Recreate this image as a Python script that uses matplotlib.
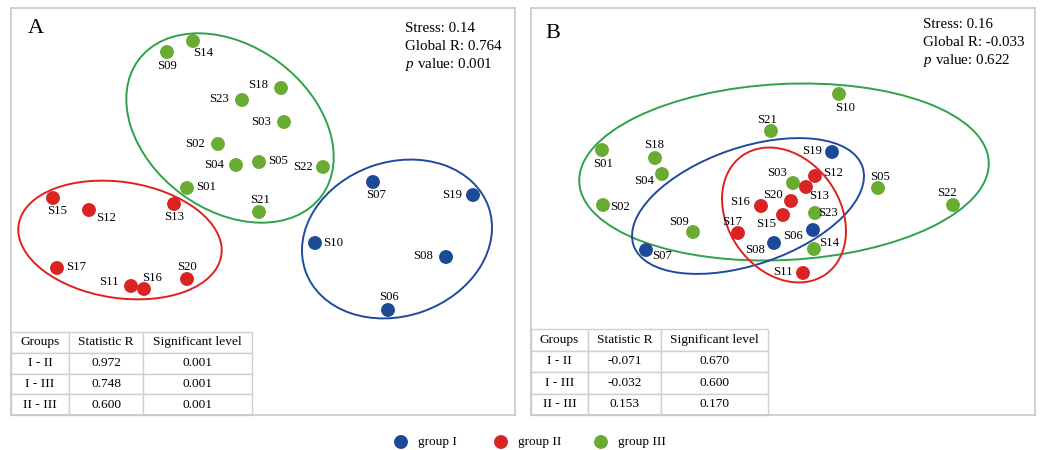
import matplotlib
matplotlib.use('Agg')
import matplotlib.pyplot as plt
from matplotlib.patches import Ellipse

plt.rcParams['font.family'] = ['Liberation Serif', 'DejaVu Serif']
plt.rcParams['mathtext.fontset'] = 'custom'
plt.rcParams['mathtext.rm'] = 'Liberation Serif'
plt.rcParams['mathtext.it'] = 'Liberation Serif:italic'

# NMDS coordinates (panel units, y grows downward)
samples = ['S01', 'S02', 'S03', 'S04', 'S05', 'S06', 'S07', 'S08', 'S09', 'S10', 'S11', 'S12',
           'S13', 'S14', 'S15', 'S16', 'S17', 'S18', 'S19', 'S20', 'S21', 'S22', 'S23']

a_x = [176, 207, 273, 225, 248, 377, 362, 435, 156, 304, 120, 78,
       163, 182, 42, 133, 46, 270, 462, 176, 248, 312, 231]
a_y = [180, 136, 114, 157, 154, 302, 174, 249, 44, 235, 278, 202,
       196, 33, 190, 281, 260, 80, 187, 271, 204, 159, 92]
a_group = [3, 3, 3, 3, 3, 1, 1, 1, 3, 1, 2, 2,
           2, 3, 2, 2, 2, 3, 1, 2, 3, 3, 3]

b_x = [71, 72, 262, 131, 347, 282, 115, 243, 162, 308, 272, 284,
       275, 283, 252, 230, 207, 124, 301, 260, 240, 422, 284]
b_y = [142, 197, 175, 166, 180, 222, 242, 235, 224, 86, 265, 168,
       179, 241, 207, 198, 225, 150, 144, 193, 123, 197, 205]
b_group = [3, 3, 3, 3, 3, 1, 1, 1, 3, 3, 2, 2,
           2, 3, 2, 2, 2, 3, 1, 2, 3, 3, 3]

a_stats = ['Stress: 0.14', 'Global R: 0.764', '$p$ value: 0.001']
b_stats = ['Stress: 0.16', 'Global R: -0.033', '$p$ value: 0.622']

table_header = ['Groups', 'Statistic R', 'Significant level']
pairs = ['I - II', 'I - III', 'II - III']
a_r = ['0.972', '0.748', '0.600']
a_sig = ['0.001', '0.001', '0.001']
b_r = ['-0.071', '-0.032', '0.153']
b_sig = ['0.670', '0.600', '0.170']

group_names = {1: 'group I', 2: 'group II', 3: 'group III'}
point_colors = {1: '#1c4a96', 2: '#da2424', 3: '#6aab34'}
ring_colors = {1: '#1f4a9e', 2: '#e02020', 3: '#2ea24a'}

# ellipses: group -> (cx, cy, width, height, angle)
a_rings = {3: (219, 120, 228, 164, 36.7), 2: (109, 232, 205, 116, 8.6), 1: (386, 231, 194, 154, -19.3)}
b_rings = {3: (253, 164, 410, 176, -2.9), 1: (217, 198, 242, 117, -19.0), 2: (253, 207, 145, 112, 54.8)}

# label offsets from each point (layout only)
a_off = {'S01': (19, -1), 'S02': (-23, 0), 'S03': (-23, 0), 'S04': (-22, 0), 'S05': (19, -1),
         'S06': (1, -13), 'S07': (3, 13), 'S08': (-23, -1), 'S09': (0, 14), 'S10': (18, 0),
         'S11': (-22, -4), 'S12': (17, 8), 'S13': (0, 13), 'S14': (10, 12), 'S15': (4, 13),
         'S16': (8, -11), 'S17': (19, -1), 'S18': (-23, -3), 'S19': (-21, 0), 'S20': (0, -12),
         'S21': (1, -12), 'S22': (-20, 0), 'S23': (-23, -1)}
b_off = {'S01': (1, 14), 'S02': (17, 2), 'S03': (-16, -10), 'S04': (-18, 7), 'S05': (2, -11),
         'S06': (-20, 6), 'S07': (16, 6), 'S08': (-19, 7), 'S09': (-14, -10), 'S10': (6, 14),
         'S11': (-20, -1), 'S12': (18, -3), 'S13': (13, 9), 'S14': (15, -6), 'S15': (-17, 9),
         'S16': (-21, -4), 'S17': (-6, -11), 'S18': (-1, -13), 'S19': (-20, -1), 'S20': (-18, -6),
         'S21': (-4, -11), 'S22': (-6, -12), 'S23': (13, 0)}

W, H = 504, 407
fig = plt.figure(figsize=(10.4, 4.5), dpi=100)


def draw_panel(left, letter, xs, ys, groups, rings, offs, stats, r_vals, sig_vals, letter_pos, stats_pos,
               tbl_w, tbl_h, col_w):
    ax = fig.add_axes([left / 1040, 35 / 450, W / 1040, H / 450])
    ax.set_xlim(0, W)
    ax.set_ylim(H, 0)
    ax.set_xticks([])
    ax.set_yticks([])
    for sp in ax.spines.values():
        sp.set_color('#c8c8c8')
        sp.set_linewidth(1.2)

    for g, (cx, cy, w, h, ang) in rings.items():
        ax.add_patch(Ellipse((cx, cy), w, h, angle=ang, fill=False,
                             edgecolor=ring_colors[g], linewidth=1.4, zorder=2))

    for name, x, y, g in zip(samples, xs, ys, groups):
        ax.scatter(x, y, s=100, color=point_colors[g], edgecolor='none', zorder=3)
        dx, dy = offs[name]
        ax.text(x + dx, y + dy, name, fontsize=9.2, ha='center', va='center', zorder=4)

    ax.text(letter_pos[0], letter_pos[1], letter, fontsize=16, ha='center', va='baseline')
    for i, s in enumerate(stats):
        ax.text(stats_pos[0], stats_pos[1] + 18 * i, s, fontsize=10.8, ha='left', va='baseline')

    rows = [[p, r, s] for p, r, s in zip(pairs, r_vals, sig_vals)]
    tbl = ax.table(cellText=rows, colLabels=table_header, colWidths=col_w, cellLoc='center',
                   bbox=[0, 0, tbl_w / W, tbl_h / H])
    tbl.auto_set_font_size(False)
    tbl.set_fontsize(9.6)
    for cell in tbl.get_celld().values():
        cell.set_edgecolor('#d0d0d0')
        cell.set_linewidth(1)
        cell.set_facecolor('white')
    return ax


draw_panel(11, 'A', a_x, a_y, a_group, a_rings, a_off, a_stats, a_r, a_sig,
           (25, 25), (394, 24), 241, 83, [58, 74, 109])
draw_panel(531, 'B', b_x, b_y, b_group, b_rings, b_off, b_stats, b_r, b_sig,
           (22, 30), (392, 20), 237, 86, [57, 73, 107])

# legend strip along the bottom
lax = fig.add_axes([0, 0, 1, 35 / 450])
lax.set_xlim(0, 1040)
lax.set_ylim(450, 415)
lax.axis('off')
for i, g in enumerate((1, 2, 3)):
    lax.scatter(401 + 100 * i, 442, s=100, color=point_colors[g], edgecolor='none')
    lax.text(418 + 100 * i, 442, group_names[g], fontsize=9.5, ha='left', va='center')

fig.savefig('out.png', dpi=100)
